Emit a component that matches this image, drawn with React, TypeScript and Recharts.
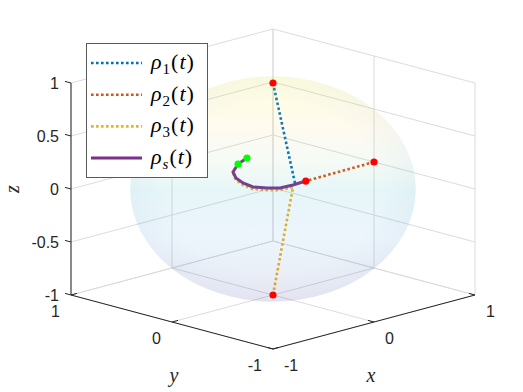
import React from "react";
import { ComposedChart, Line, ReferenceLine, Scatter, XAxis, YAxis } from "recharts";

type P3 = [number, number, number];

// axis ticks
const X_TICKS = [-1, 0, 1];
const Y_TICKS = [-1, 0, 1];
const Z_TICKS = [-1, -0.5, 0, 0.5, 1];

// trajectories on the Bloch sphere (x, y, z)
const RHO1: P3[] = [
  [0, 0, 1],
  [0.2, -0.02, 0],
];
const RHO2: P3[] = [
  [1, 0, 0],
  [0.31, -0.015, 0],
];
const RHO3: P3[] = [
  [0, 0, -1],
  [0.173, -0.025, -0.02],
  [0.053, -0.016, -0.02],
  [-0.011, 0.048, -0.02],
  [-0.062, 0.136, -0.02],
  [-0.037, 0.26, -0.02],
  [0.02, 0.387, -0.02],
  [0.117, 0.513, -0.02],
];
const RHO_S: P3[] = [
  [0.31, -0.015, 0],
  [0.173, -0.025, 0],
  [0.053, -0.016, 0],
  [-0.011, 0.048, 0],
  [-0.062, 0.136, 0],
  [-0.037, 0.26, 0],
  [0.02, 0.387, 0],
  [0.117, 0.513, 0],
  [0.29, 0.636, 0],
  [0.445, 0.703, 0],
];
const START_PTS: P3[] = [
  [0, 0, 1],
  [1, 0, 0],
  [0, 0, -1],
  [0.31, -0.015, 0],
];
const END_PTS: P3[] = [
  [0.29, 0.636, 0],
  [0.445, 0.703, 0],
];

const SERIES = [
  { key: "r1", sub: "1", data: RHO1, color: "#0072BD", width: 2.6, dash: "2.6 2.4" },
  { key: "r2", sub: "2", data: RHO2, color: "#D95319", width: 2.6, dash: "2.6 2.4" },
  { key: "r3", sub: "3", data: RHO3, color: "#EDB120", width: 2.6, dash: "2.6 2.4" },
  { key: "rs", sub: "s", data: RHO_S, color: "#7E2F8E", width: 3, dash: undefined },
];

// view of the original figure, expressed as a linear projection
const W = 523;
const H = 392;
const K = 101; // px per unit along x - y
const CX = 273;
const CY = 189;
const A = 27 / K;
const B = 106 / K;

const proj = ([x, y, z]: P3) => ({ u: x - y, v: A * (x + y) + B * z });
const seg = (p: P3, q: P3) => {
  const a = proj(p);
  const b = proj(q);
  return [
    { x: a.u, y: a.v },
    { x: b.u, y: b.v },
  ];
};

const GRID: [P3, P3][] = [
  ...Z_TICKS.map((z) => [[-1, 1, z], [1, 1, z]] as [P3, P3]),
  ...X_TICKS.map((x) => [[x, 1, -1], [x, 1, 1]] as [P3, P3]),
  ...Z_TICKS.map((z) => [[1, -1, z], [1, 1, z]] as [P3, P3]),
  ...Y_TICKS.map((y) => [[1, y, -1], [1, y, 1]] as [P3, P3]),
  ...X_TICKS.map((x) => [[x, -1, -1], [x, 1, -1]] as [P3, P3]),
  ...Y_TICKS.map((y) => [[-1, y, -1], [1, y, -1]] as [P3, P3]),
];

const AXES: [P3, P3][] = [
  [[-1, -1, -1], [1, -1, -1]],
  [[-1, -1, -1], [-1, 1, -1]],
  [[-1, 1, -1], [-1, 1, 1]],
];

const TICK_LEN = 0.06;
const TICKS: [P3, P3][] = [
  ...X_TICKS.map((x) => [[x, -1, -1], [x, -1 + TICK_LEN, -1]] as [P3, P3]),
  ...Y_TICKS.map((y) => [[-1, y, -1], [-1 + TICK_LEN, y, -1]] as [P3, P3]),
  ...Z_TICKS.map((z) => [[-1, 1, z], [-1, 1 + TICK_LEN, z]] as [P3, P3]),
];

const TICK_FONT = "Liberation Sans, Arial, sans-serif";
const SERIF = "Liberation Serif, Times New Roman, serif";

const tickText =
  (dx: number, dy: number, anchor: "start" | "middle" | "end") => (p: any) =>
    (
      <text
        x={p.cx + dx}
        y={p.cy + dy}
        textAnchor={anchor}
        dominantBaseline="central"
        fontFamily={TICK_FONT}
        fontSize={16}
        fill="#262626"
      >
        {p.payload.label}
      </text>
    );

function LegendBox() {
  return (
    <svg style={{ position: "absolute", left: 86, top: 43 }} width={122} height={135}>
      <rect x={0.5} y={0.5} width={121} height={134} fill="#fff" stroke="#5a5a5a" />
      {SERIES.map((s, i) => {
        const y = 20 + i * 31.7;
        return (
          <g key={s.key}>
            <line x1={5} x2={56} y1={y} y2={y} stroke={s.color} strokeWidth={s.width} strokeDasharray={s.dash} />
            <text
              x={65}
              y={y + 6}
              style={{ fontFamily: SERIF, fontSize: 22, letterSpacing: 1 }}
              fill="#000"
            >
              <tspan style={{ fontStyle: "italic" }}>ρ</tspan>
              <tspan
                dy={5}
                style={{ fontSize: 15, fontStyle: s.sub === "s" ? "italic" : "normal" }}
              >
                {s.sub}
              </tspan>
              <tspan dy={-5}>(</tspan>
              <tspan style={{ fontStyle: "italic" }}>t</tspan>
              <tspan>)</tspan>
            </text>
          </g>
        );
      })}
    </svg>
  );
}

export default function App() {
  const origin = proj([0, 0, 0]);
  const rx = K * Math.SQRT2;
  const ry = K * Math.sqrt(2 * A * A + B * B);
  return (
    <div style={{ position: "absolute", left: 0, top: 0, width: W, height: H, background: "#fff" }}>
      <ComposedChart width={W} height={H} margin={{ top: 0, right: 0, bottom: 0, left: 0 }}>
        <defs>
          <linearGradient id="sphereFill" x1="0" y1="0" x2="0" y2="1">
            <stop offset="0%" stopColor="#f9fb0e" stopOpacity={0.14} />
            <stop offset="22%" stopColor="#fec832" stopOpacity={0.08} />
            <stop offset="36%" stopColor="#87bf77" stopOpacity={0.07} />
            <stop offset="50%" stopColor="#2eb7c4" stopOpacity={0.12} />
            <stop offset="72%" stopColor="#1481d6" stopOpacity={0.08} />
            <stop offset="100%" stopColor="#352a87" stopOpacity={0.11} />
          </linearGradient>
          <radialGradient id="sphereRim" cx="50%" cy="50%" r="50%">
            <stop offset="75%" stopColor="#6a8fc0" stopOpacity={0} />
            <stop offset="100%" stopColor="#6a8fc0" stopOpacity={0.05} />
          </radialGradient>
        </defs>
        <XAxis
          type="number"
          dataKey="u"
          hide
          domain={[-CX / K, (W - CX) / K]}
          allowDataOverflow
        />
        <YAxis
          type="number"
          dataKey="v"
          hide
          domain={[-(H - CY) / K, CY / K]}
          allowDataOverflow
        />
        {GRID.map(([p, q], i) => (
          <ReferenceLine key={`g${i}`} segment={seg(p, q)} stroke="#dcdcdc" strokeWidth={1} ifOverflow="visible" />
        ))}
        <Scatter
          data={[origin]}
          isAnimationActive={false}
          shape={(p: any) => (
            <g>
              <ellipse cx={p.cx} cy={p.cy} rx={rx} ry={ry} fill="url(#sphereFill)" />
              <ellipse cx={p.cx} cy={p.cy} rx={rx} ry={ry} fill="url(#sphereRim)" />
            </g>
          )}
        />
        {SERIES.map((s) => (
          <Line
            key={s.key}
            data={s.data.map(proj)}
            dataKey="v"
            type="linear"
            stroke={s.color}
            strokeWidth={s.width}
            strokeDasharray={s.dash}
            dot={false}
            isAnimationActive={false}
          />
        ))}
        <Scatter
          data={START_PTS.map(proj)}
          isAnimationActive={false}
          shape={(p: any) => <circle cx={p.cx} cy={p.cy} r={3.6} fill="#ff0000" />}
        />
        <Scatter
          data={END_PTS.map(proj)}
          isAnimationActive={false}
          shape={(p: any) => <circle cx={p.cx} cy={p.cy} r={3.6} fill="#00ff00" />}
        />
        {AXES.map(([p, q], i) => (
          <ReferenceLine key={`a${i}`} segment={seg(p, q)} stroke="#262626" strokeWidth={1} ifOverflow="visible" />
        ))}
        {TICKS.map(([p, q], i) => (
          <ReferenceLine key={`t${i}`} segment={seg(p, q)} stroke="#262626" strokeWidth={1} ifOverflow="visible" />
        ))}
        <Scatter
          data={X_TICKS.map((x) => ({ ...proj([x, -1, -1]), label: String(x) }))}
          isAnimationActive={false}
          shape={tickText(11, 16, "start")}
        />
        <Scatter
          data={Y_TICKS.map((y) => ({ ...proj([-1, y, -1]), label: String(y) }))}
          isAnimationActive={false}
          shape={tickText(-11, 16, "end")}
        />
        <Scatter
          data={Z_TICKS.map((z) => ({ ...proj([-1, 1, z]), label: String(z) }))}
          isAnimationActive={false}
          shape={tickText(-12, 0, "end")}
        />
        <Scatter
          data={[
            { ...proj([0, -1, -1]), label: "x", dx: -3, dy: 53, rot: 0 },
            { ...proj([-1, 0, -1]), label: "y", dx: 2, dy: 53, rot: 0 },
            { ...proj([-1, 1, 0]), label: "z", dx: -59, dy: 0, rot: -90 },
          ]}
          isAnimationActive={false}
          shape={(p: any) => {
            const x = p.cx + p.payload.dx;
            const y = p.cy + p.payload.dy;
            return (
              <text
                x={x}
                y={y}
                textAnchor="middle"
                dominantBaseline="central"
                style={{ fontFamily: SERIF, fontStyle: "italic", fontSize: 20 }}
                fill="#262626"
                transform={p.payload.rot ? `rotate(${p.payload.rot} ${x} ${y})` : undefined}
              >
                {p.payload.label}
              </text>
            );
          }}
        />
      </ComposedChart>
      <LegendBox />
    </div>
  );
}
